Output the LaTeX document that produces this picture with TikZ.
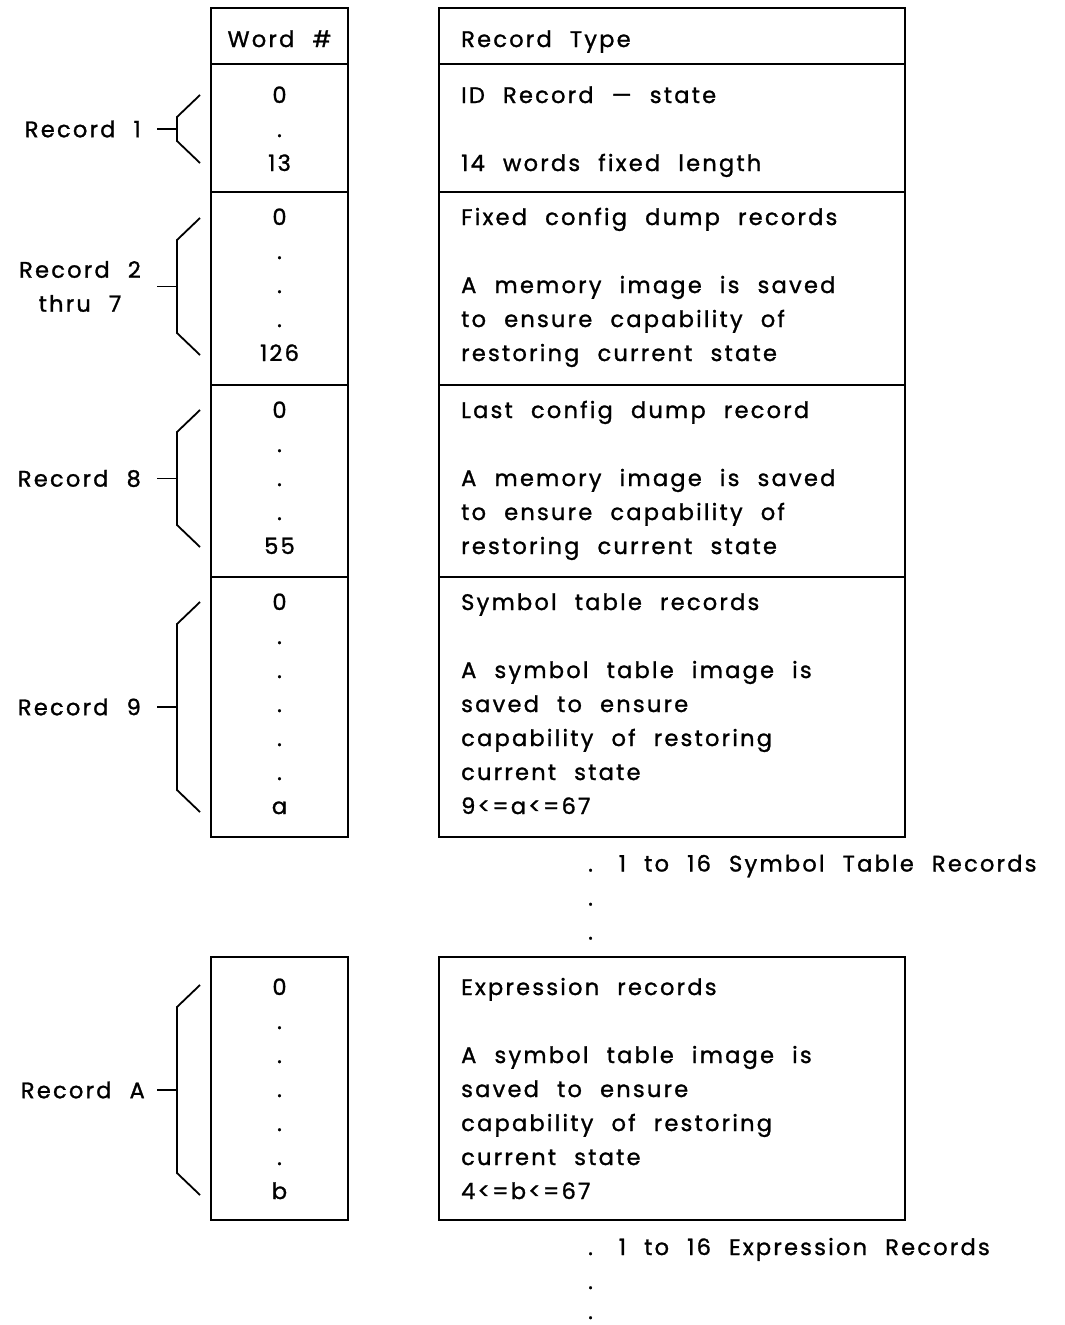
\documentclass[tikz,border=0pt]{standalone}
\usepackage{fontspec}
\setmainfont{Poppins}[LetterSpace=10, WordSpace=2.2, FakeBold=1.2]
\usetikzlibrary{positioning}

\begin{document}
\begin{tikzpicture}[x=1pt, y=-1pt,
    font=\fontsize{22.5}{34}\selectfont,
    cell/.style={draw, line width=2pt, anchor=north west, inner sep=0pt, outer sep=0pt},
    wordcell/.style={cell, minimum width=137pt},
    typecell/.style={cell, minimum width=466pt},
    num/.style={align=center, inner sep=0pt},
    txt/.style={align=left, inner sep=0pt},
    recname/.style={align=center, inner sep=0pt},
    brace/.style={line width=1.8pt}]
    \useasboundingbox (0,0) rectangle (1065,1325);

    % word column
    \node[wordcell, minimum height=56pt] (w0) at (211,8) {};
    \node[wordcell, minimum height=128pt] (w1) at (w0.south west) {};
    \node[wordcell, minimum height=193pt] (w2) at (w1.south west) {};
    \node[wordcell, minimum height=192pt] (w3) at (w2.south west) {};
    \node[wordcell, minimum height=260pt] (w4) at (w3.south west) {};
    \node[wordcell, minimum height=263pt] (w5) at (211,957) {};

    % record type column
    \node[typecell, minimum height=56pt] (t0) at (439,8) {};
    \node[typecell, minimum height=128pt] (t1) at (t0.south west) {};
    \node[typecell, minimum height=193pt] (t2) at (t1.south west) {};
    \node[typecell, minimum height=192pt] (t3) at (t2.south west) {};
    \node[typecell, minimum height=260pt] (t4) at (t3.south west) {};
    \node[typecell, minimum height=263pt] (t5) at (439,957) {};

    \node[num, below=15pt of w0.north] (n0) {\strut Word \#};
    \node[num, below=15pt of w1.north] (n1) {\strut 0\\.\\13};
    \node[num, below=9pt of w2.north] (n2) {\strut 0\\.\\.\\.\\126};
    \node[num, below=9pt of w3.north] (n3) {\strut 0\\.\\.\\.\\55};
    \node[num, below=9pt of w4.north] (n4) {\strut 0\\.\\.\\.\\.\\.\\a};
    \node[num, below=14pt of w5.north] (n5) {\strut 0\\.\\.\\.\\.\\.\\b};

    \node[txt, below right=15pt and 22pt of t0.north west] (d0) {\strut Record Type};
    \node[txt, below right=15pt and 22pt of t1.north west] (d1)
      {\strut ID Record — state\\[34pt]14 words fixed length};
    \node[txt, below right=9pt and 22pt of t2.north west] (d2)
      {\strut Fixed config dump records\\[34pt]A memory image is saved\\
       to ensure capability of\\restoring current state};
    \node[txt, below right=9pt and 22pt of t3.north west] (d3)
      {\strut Last config dump record\\[34pt]A memory image is saved\\
       to ensure capability of\\restoring current state};
    \node[txt, below right=9pt and 22pt of t4.north west] (d4)
      {\strut Symbol table records\\[34pt]A symbol table image is\\saved to ensure\\
       capability of restoring\\current state\\9<=a<=67};
    \node[txt, below right=14pt and 22pt of t5.north west] (d5)
      {\strut Expression records\\[34pt]A symbol table image is\\saved to ensure\\
       capability of restoring\\current state\\4<=b<=67};

    % more records follow
    \node[txt, anchor=north west] (more1) at (588,847.5)
      {\strut.\hspace{5pt} 1 to 16 Symbol Table Records\\.\\.};
    \node[txt, anchor=north west] (more2) at (588,1231)
      {\strut.\hspace{5pt} 1 to 16 Expression Records\\.\\[-4pt].};

    % brackets
    \foreach \yt/\yb/\nm in {95/163/r1, 218/355/r2, 410/547/r8, 602/812/r9, 985/1195/ra} {
      \coordinate (\nm top) at (200,\yt);
      \coordinate (\nm bot) at (200,\yb);
      \coordinate (\nm mid) at (157,{(\yt+\yb)/2});
      \draw[brace] (\nm top) -- ++(-23,22) -- ++(0,{\yb-\yt-44}) -- (\nm bot);
      \draw[brace] (\nm mid) -- ++(20,0);
    }
    \node[recname, left=16pt of r1mid] (l1) {Record 1};
    \node[recname, left=16pt of r2mid] (l2) {Record 2\\thru 7};
    \node[recname, left=16pt of r8mid] (l8) {Record 8};
    \node[recname, left=16pt of r9mid] (l9) {Record 9};
    \node[recname, left=12pt of ramid] (la) {Record A};
\end{tikzpicture}
\end{document}
